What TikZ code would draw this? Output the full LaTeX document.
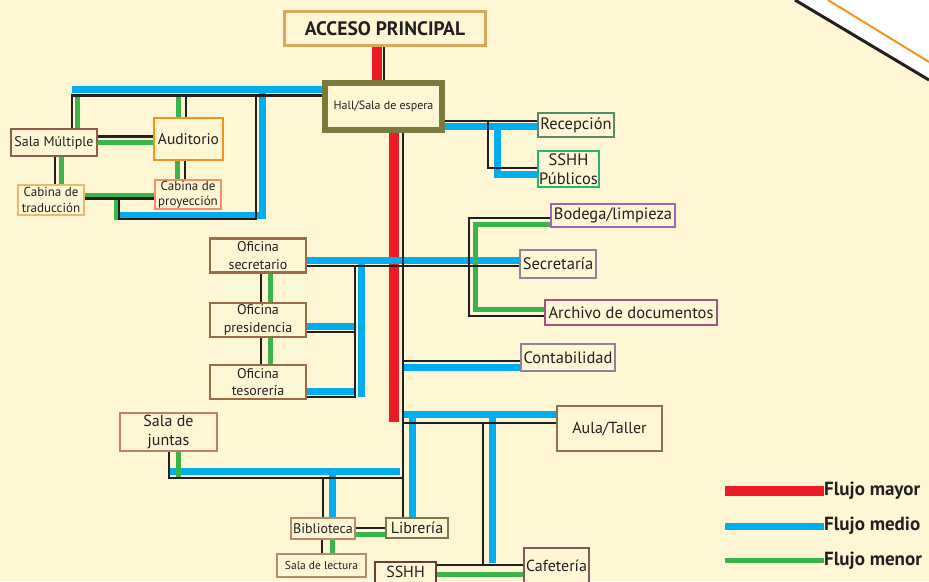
\documentclass[tikz,border=0pt]{standalone}
\usepackage{fontspec}
\setmainfont{PT Sans}
\usetikzlibrary{backgrounds}

\definecolor{paper}{RGB}{255,247,212}
\definecolor{ink}{RGB}{35,31,32}
\definecolor{flowRed}{RGB}{237,28,36}
\definecolor{flowBlue}{RGB}{0,174,239}
\definecolor{flowGreen}{RGB}{57,181,74}
\definecolor{cornerOrange}{RGB}{247,148,29}
% box borders
\definecolor{accBorder}{RGB}{217,169,91}
\definecolor{hallBorder}{RGB}{122,122,60}
\definecolor{recepBorder}{RGB}{90,138,106}
\definecolor{sshhPubBorder}{RGB}{34,181,115}
\definecolor{multBorder}{RGB}{140,94,78}
\definecolor{auditBorder}{RGB}{247,148,29}
\definecolor{tradBorder}{RGB}{233,184,114}
\definecolor{proyBorder}{RGB}{246,142,110}
\definecolor{oficBorder}{RGB}{155,107,69}
\definecolor{bodegaBorder}{RGB}{160,100,180}
\definecolor{greyBorder}{RGB}{140,132,152}
\definecolor{archBorder}{RGB}{169,79,130}
\definecolor{aulaBorder}{RGB}{142,112,73}
\definecolor{juntasBorder}{RGB}{194,123,119}
\definecolor{biblioBorder}{RGB}{180,140,108}
\definecolor{librBorder}{RGB}{122,122,72}
\definecolor{sshhBorder}{RGB}{107,59,54}
\definecolor{cafeBorder}{RGB}{124,92,92}

\begin{document}
\begin{tikzpicture}[
    x=1pt, y=-1pt,
    room node/.style={draw, fill=paper, text=ink, line width=2.5pt, inner sep=0pt,
        align=center, font=\fontsize{16.5}{19}\selectfont},
    small room/.style={room node, font=\fontsize{14}{17}\selectfont},
    major flow/.style={draw=flowRed, line width=10pt},
    medium flow/.style={draw=flowBlue, line width=7pt},
    minor flow/.style={draw=flowGreen, line width=5pt},
    link line/.style={draw=ink, line width=2.5pt},
    key text/.style={font=\bfseries\fontsize{19}{22}\selectfont, text=ink, anchor=west, inner sep=0pt}
]

\useasboundingbox (0,0) rectangle (929,581);
\clip (0,0) rectangle (929,581);

%================ENTRANCE AND HALL================
\node[room node, draw=accBorder, line width=3pt, minimum width=201pt, minimum height=34pt,
    font=\bfseries\fontsize{19.5}{22}\selectfont] (acceso) at (385,28.5) {ACCESO PRINCIPAL};
\node[room node, draw=hallBorder, line width=6pt, minimum width=117pt, minimum height=47pt,
    font=\fontsize{12}{14}\selectfont] (hall) at (383.5,106.5) {Hall/Sala de espera};
\node[room node, draw=recepBorder, minimum width=76pt, minimum height=24pt] (recep) at (576,125) {Recepción};
\node[room node, draw=sshhPubBorder, minimum width=61pt, minimum height=36pt] (sshhpub) at (568.5,169) {SSHH\\Públicos};

%================AUDITORIUM WING================
\node[room node, draw=multBorder, minimum width=86pt, minimum height=27pt,
    font=\fontsize{14}{16}\selectfont] (salamult) at (54,142.5) {Sala Múltiple};
\node[room node, draw=auditBorder, minimum width=69pt, minimum height=42pt,
    font=\fontsize{15.5}{18}\selectfont] (audit) at (188.5,139) {Auditorio};
\node[small room, draw=tradBorder, minimum width=66pt, minimum height=30pt,
    font=\fontsize{13}{15.5}\selectfont] (cabtrad) at (51,200) {Cabina de\\traducción};
\node[small room, draw=proyBorder, minimum width=66pt, minimum height=29pt,
    font=\fontsize{13}{15}\selectfont] (cabproy) at (188,194.5) {Cabina de\\proyección};

%================OFFICES================
\foreach \name/\job/\y in {ofsec/secretario/255.5, ofpres/presidencia/320, oftes/tesorería/382} {
    \node[small room, draw=oficBorder, minimum width=96pt, minimum height=34pt,
        font=\fontsize{14}{17.5}\selectfont] (\name) at (258,\y) {Oficina\\\job};
}
\node[room node, draw=bodegaBorder, minimum width=124pt, minimum height=23pt] (bodega) at (613,215.5) {Bodega/limpieza};
\node[room node, draw=greyBorder, minimum width=76pt, minimum height=28pt] (secretaria) at (558,264) {Secretaría};
\node[room node, draw=archBorder, minimum width=172pt, minimum height=25pt] (archivo) at (631,312.5) {Archivo de documentos};
\node[room node, draw=greyBorder, minimum width=94pt, minimum height=27pt] (contab) at (568,357.5) {Contabilidad};

%================LOWER WING================
\node[room node, draw=aulaBorder, minimum width=105pt, minimum height=45pt,
    font=\fontsize{16}{19}\selectfont] (aula) at (609.5,428.5) {Aula/Taller};
\node[room node, draw=juntasBorder, minimum width=97pt, minimum height=38pt,
    font=\fontsize{16}{19}\selectfont] (juntas) at (168.5,432) {Sala de\\juntas};
\node[small room, draw=biblioBorder, minimum width=64pt, minimum height=21pt] (biblio) at (323,528.5) {Biblioteca};
\node[room node, draw=librBorder, minimum width=62pt, minimum height=20pt,
    font=\fontsize{16}{18}\selectfont] (libreria) at (417,528) {Librería};
\node[small room, draw=biblioBorder, minimum width=89pt, minimum height=23pt,
    font=\fontsize{11.5}{14}\selectfont] (lectura) at (321.5,565.5) {Sala de lectura};
\node[room node, draw=sshhBorder, minimum width=61pt, minimum height=26pt,
    font=\fontsize{16}{18}\selectfont, text depth=6pt] (sshh) at (405.5,575) {SSHH};
\node[room node, draw=cafeBorder, minimum width=65pt, minimum height=36pt,
    font=\fontsize{16}{18}\selectfont] (cafe) at (556.5,566) {Cafetería};

% free ends of the buses
\coordinate (trunk end) at (394,422);
\coordinate (west bus) at (72,89.5);
\coordinate (loop corner) at (262,215);

%================FLOW LINES================
\begin{scope}[on background layer]
    \fill[paper] (0,0) rectangle (929,581);
    % corner mark
    \fill[white] (795,0) -- (929,80) -- (929,0) -- cycle;
    \draw[ink, line width=3pt] (795,0) -- (929,80);
    \draw[cornerOrange, line width=2pt] (828,0) -- (929,62);

    % --- 1. Major flow ---
    \draw[major flow] (377,0 |- acceso.south) -- (377,0 |- hall.north);
    \draw[major flow] (394,0 |- hall.south) -- (trunk end);

    % --- 2. Medium flow ---
    \draw[medium flow] (hall.west |- west bus) -- (west bus);
    \draw[medium flow] (262,89.5) -- (loop corner) -- (120,215);
    \draw[medium flow] (hall.east |- 0,126.5) -- (recep.west |- 0,126.5);
    \draw[medium flow] (497,127) -- (497,174) -- (sshhpub.west |- 0,174);
    \draw[medium flow] (ofsec.east |- 0,260.5) -- (secretaria.west |- 0,260.5);
    \draw[medium flow] (361,264) -- (361,397);
    \draw[medium flow] (ofpres.east |- 0,326) -- (354,326);
    \draw[medium flow] (oftes.east |- 0,391) -- (354,391);
    \draw[medium flow] (403,367) -- (contab.west |- 0,367);
    \draw[medium flow] (403,414.5) -- (aula.west |- 0,414.5);
    \draw[medium flow] (492.5,418) -- (492.5,563);
    \draw[medium flow] (412.5,418) -- (412.5,0 |- libreria.north);
    \draw[medium flow] (169,471) -- (400,471);
    \draw[medium flow] (332,475) -- (332,0 |- biblio.north);

    % --- 3. Minor flow ---
    \draw[minor flow] (77,97) -- (77,0 |- salamult.north);
    \draw[minor flow] (178,97) -- (178,0 |- audit.north);
    \draw[minor flow] (salamult.east |- 0,142) -- (audit.west |- 0,142);
    \draw[minor flow] (61,0 |- salamult.south) -- (61,0 |- cabtrad.north);
    \draw[minor flow] (177.5,0 |- audit.south) -- (177.5,0 |- cabproy.north);
    \draw[minor flow] (cabtrad.east |- 0,195) -- (cabproy.west |- 0,195);
    \draw[minor flow] (116,196) -- (116,220);
    \draw[minor flow] (270.5,0 |- ofsec.south) -- (270.5,0 |- ofpres.north);
    \draw[minor flow] (270.5,0 |- ofpres.south) -- (270.5,0 |- oftes.north);
    \draw[minor flow] (bodega.west |- 0,224) -- (475,224) -- (475,309.5) -- (archivo.west |- 0,309.5);
    \draw[minor flow] (178,0 |- juntas.south) -- (178,477);
    \draw[minor flow] (biblio.east |- 0,534.5) -- (libreria.west |- 0,534.5);
    \draw[minor flow] (332,0 |- biblio.south) -- (332,0 |- lectura.north);
    \draw[minor flow] (sshh.east |- 0,574.5) -- (cafe.west |- 0,574.5);

    % --- 4. Thin links ---
    \draw[link line] (384,0 |- acceso.south) -- (384,0 |- hall.north);
    \draw[link line] (403,0 |- hall.south) -- (403,0 |- libreria.north);
    \draw[link line] (hall.west |- 0,95.5) -- (72,95.5) -- (72,0 |- salamult.north);
    \draw[link line] (186,95.5) -- (186,0 |- audit.north);
    \draw[link line] (256,95.5) -- (256,219) -- (119,219) -- (119,198.5);
    \draw[link line] (salamult.east |- 0,136.5) -- (audit.west |- 0,136.5);
    \draw[link line] (55,0 |- salamult.south) -- (55,0 |- cabtrad.north);
    \draw[link line] (185,0 |- audit.south) -- (185,0 |- cabproy.north);
    \draw[link line] (cabtrad.east |- 0,198.5) -- (cabproy.west |- 0,198.5);
    \draw[link line] (hall.east |- 0,121) -- (recep.west |- 0,121);
    \draw[link line] (488,121) -- (488,168) -- (sshhpub.west |- 0,168);
    \draw[link line] (ofsec.east |- 0,266) -- (secretaria.west |- 0,266);
    \draw[link line] (355,266) -- (355,397) -- (oftes.east |- 0,397);
    \draw[link line] (ofpres.east |- 0,332) -- (355,332);
    \draw[link line] (261,0 |- ofsec.south) -- (261,0 |- ofpres.north);
    \draw[link line] (261,0 |- ofpres.south) -- (261,0 |- oftes.north);
    \draw[link line] (bodega.west |- 0,218) -- (469,218) -- (469,316) -- (archivo.west |- 0,316);
    \draw[link line] (403,361) -- (contab.west |- 0,361);
    \draw[link line] (403,423) -- (aula.west |- 0,423);
    \draw[link line] (483,423) -- (483,565);
    \draw[link line] (sshh.east |- 0,565) -- (cafe.west |- 0,565);
    \draw[link line] (403,478) -- (169,478) -- (169,0 |- juntas.south);
    \draw[link line] (323,478) -- (323,0 |- biblio.north);
    \draw[link line] (biblio.east |- 0,528) -- (libreria.west |- 0,528);
    \draw[link line] (322,0 |- biblio.south) -- (322,0 |- lectura.north);
\end{scope}

%================KEY================
\foreach \col/\lbl/\y/\w [count=\c] in {flowRed/Flujo mayor/491/10, flowBlue/Flujo medio/526/7, flowGreen/Flujo menor/560.5/5} {
    \node[key text] (key\c) at (824,\y) {\lbl};
    \draw[draw=\col, line width=\w pt] (key\c.west) -- ++(-99,0);
}

\end{tikzpicture}
\end{document}
